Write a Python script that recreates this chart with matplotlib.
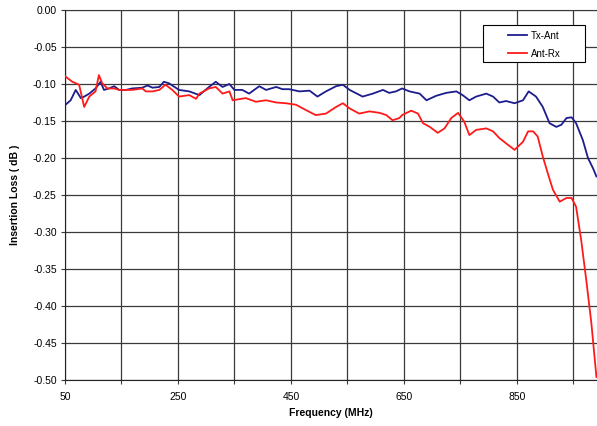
import matplotlib
matplotlib.use("Agg")
import matplotlib.pyplot as plt
from matplotlib.patches import Rectangle
import numpy as np

plt.rcParams['font.family'] = ['Liberation Sans', 'DejaVu Sans']

tx_freq = [51, 60, 69, 78, 84, 93, 104, 113, 119, 128, 137, 146, 158, 169, 187, 196, 205, 217, 225, 234,
           252, 270, 288, 305, 317, 329, 341, 350, 364, 376, 394, 406, 424, 435, 447, 465, 483, 497, 512,
           530, 542, 554, 577, 595, 613, 624, 636, 647, 660, 678, 690, 707, 725, 743, 754, 766, 778, 796,
           808, 819, 831, 846, 861, 871, 884, 896, 908, 920, 929, 938, 947, 955, 967, 976, 985, 991]
tx_loss = [-0.128, -0.122, -0.108, -0.119, -0.117, -0.113, -0.106, -0.097, -0.108, -0.106, -0.103, -0.108,
           -0.108, -0.106, -0.105, -0.102, -0.105, -0.104, -0.097, -0.099,
           -0.108, -0.110, -0.115, -0.104, -0.097, -0.104, -0.100, -0.108, -0.108, -0.113, -0.103, -0.108,
           -0.104, -0.107, -0.107, -0.110, -0.109, -0.117, -0.110, -0.103, -0.101, -0.108, -0.117, -0.113,
           -0.108, -0.112, -0.110, -0.106, -0.110, -0.113, -0.122, -0.116, -0.112, -0.110, -0.115, -0.122,
           -0.117, -0.113, -0.117, -0.125, -0.123, -0.126, -0.122, -0.110, -0.117, -0.131, -0.153, -0.158,
           -0.155, -0.146, -0.145, -0.153, -0.176, -0.200, -0.214, -0.225]

rx_freq = [51, 63, 75, 84, 93, 104, 110, 116, 125, 137, 146, 169, 187, 193, 205, 217, 228, 240, 252, 270,
           282, 288, 305, 317, 329, 341, 347, 370, 388, 406, 424, 441, 459, 476, 494, 512, 530, 542, 554,
           571, 589, 607, 619, 630, 642, 647, 663, 675, 684, 696, 710, 722, 734, 746, 757, 766, 778, 796,
           808, 819, 834, 846, 861, 870, 879, 887, 896, 905, 914, 926, 938, 947, 955, 964, 973, 982, 991]
rx_loss = [-0.090, -0.097, -0.101, -0.131, -0.117, -0.110, -0.088, -0.099, -0.106, -0.106, -0.108, -0.108,
           -0.106, -0.110, -0.110, -0.108, -0.101, -0.108, -0.117, -0.115, -0.120, -0.113, -0.106, -0.104,
           -0.113, -0.110, -0.122, -0.119, -0.124, -0.122, -0.125, -0.126, -0.128, -0.135, -0.142, -0.140,
           -0.131, -0.126, -0.133, -0.140, -0.137, -0.139, -0.142, -0.149, -0.146, -0.142, -0.136, -0.140,
           -0.153, -0.158, -0.166, -0.160, -0.146, -0.139, -0.151, -0.169, -0.162, -0.160, -0.164, -0.173,
           -0.182, -0.189, -0.178, -0.164, -0.164, -0.171, -0.198, -0.221, -0.243, -0.259, -0.254, -0.254,
           -0.266, -0.311, -0.365, -0.423, -0.496]

series_names = ["Tx-Ant", "Ant-Rx"]
x_tick_labels = ["50", "", "250", "", "450", "", "650", "", "850", ""]
y_ticks = [-0.50, -0.45, -0.40, -0.35, -0.30, -0.25, -0.20, -0.15, -0.10, -0.05, 0.00]

W, H = 597, 426
L, R, T, B = 65, 597, 10, 380
fig = plt.figure(figsize=(W/100, H/100), dpi=100)
ax = fig.add_axes([L/W, 1-B/H, (R-L)/W, (B-T)/H])

ax.plot(tx_freq, tx_loss, color='#1c1c8c', lw=1.3, label=series_names[0], zorder=3)
ax.plot(rx_freq, rx_loss, color='#ff1a1a', lw=1.3, label=series_names[1], zorder=3)

ax.set_xlim(50, 992)
ax.set_ylim(-0.5, 0.0)
ax.set_xticks(np.arange(50, 1000, 100))
ax.set_xticklabels(x_tick_labels)
ax.set_yticks(y_ticks)
ax.set_yticklabels([f"{v:.2f}" for v in y_ticks])
ax.grid(True, color='#3a3a3a', lw=0.9)
ax.set_axisbelow(True)
ax.tick_params(axis='both', labelsize=7.5, length=3, width=0.8, color='#3a3a3a', pad=3)
ax.tick_params(axis='x', pad=6)
ax.spines['right'].set_visible(False)
ax.spines['top'].set_color('#3a3a3a')
ax.spines['left'].set_color('#222222')
ax.spines['bottom'].set_color('#222222')

ax.set_xlabel("Frequency (MHz)", fontsize=7.5, fontweight='bold', labelpad=4)
ax.set_ylabel("Insertion Loss ( dB )", fontsize=7.5, fontweight='bold', labelpad=9)

# legend frame drawn as a plain box
def ax_x(px):
    return (px - L) / (R - L)
def ax_y(py):
    return 1 - (py - T) / (B - T)

box = Rectangle((ax_x(483), ax_y(62)), ax_x(585) - ax_x(483), ax_y(25) - ax_y(62),
                transform=ax.transAxes, facecolor='white', edgecolor='black', lw=0.8, zorder=4)
ax.add_patch(box)
leg = ax.legend(loc='upper left', bbox_to_anchor=(ax_x(500), ax_y(23)), fontsize=7,
                frameon=False, handlelength=2.0, handletextpad=0.35, borderpad=0.3,
                labelspacing=0.8)
leg.set_zorder(5)

fig.savefig("out.png", dpi=100)
